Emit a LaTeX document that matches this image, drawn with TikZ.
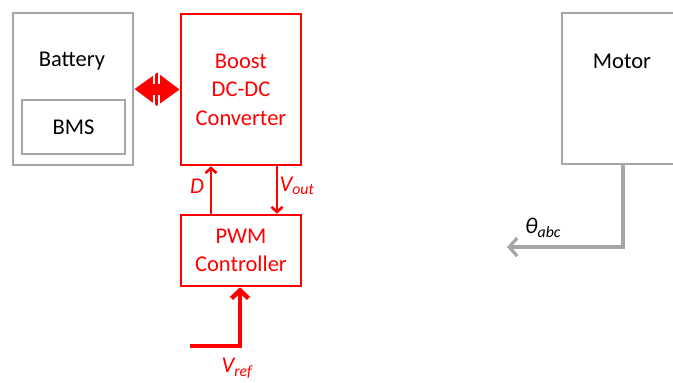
\documentclass[tikz,border=0pt]{standalone}
\usepackage{fontspec}
\setmainfont{Carlito}
\usetikzlibrary{arrows.meta, positioning}
\definecolor{boxgray}{RGB}{166,166,166}
\definecolor{sigred}{RGB}{255,0,0}
\tikzset{
  graybox/.style={draw=boxgray, line width=2.8pt, inner sep=0pt},
  redbox/.style={draw=sigred, line width=2.6pt, inner sep=0pt, text=sigred, align=center},
  sig/.style={draw=sigred, line width=2.6pt, -{Straight Barb[length=5pt, width=11pt]}},
  lbl/.style={text=sigred, font=\fontsize{22.5}{28.5}\selectfont\itshape}
}

\begin{document}
\begin{tikzpicture}[x=1pt, y=-1pt, font=\fontsize{22.5}{28.5}\selectfont]
  \useasboundingbox (0,0) rectangle (673,383);
  \clip (0,0) rectangle (673,383);
  % battery
  \node[graybox, minimum width=120pt, minimum height=152pt] (battery) at (73,89) {};
  \node (battxt) at (72,61) {Battery};
  \node[graybox, minimum width=103pt, minimum height=54pt] (bms) at (73.5,127) {BMS};
  % converter
  \node[redbox, minimum width=120pt, minimum height=151pt] (boost) at (241,89.5) {Boost\\DC-DC\\Converter};
  \node[redbox, minimum width=120pt, minimum height=71pt] (pwm) at (241,250.5) {PWM\\Controller};
  % motor
  \node[graybox, minimum width=122pt, minimum height=151pt] (motor) at (623,88.5) {};
  \node (motortxt) at (622,61) {Motor};
  %
  \draw[sigred, line width=10pt, {Triangle[length=23pt, width=32pt]}-{Triangle[length=23pt, width=32pt]}] (battery.east) -- (boost.west);
  \draw[white, line width=1.3pt] (154,71) -- (154,84) (159,71) -- (159,84) (154,95) -- (154,106) (159,95) -- (159,106);
  %
  \draw[sig] ([xshift=-30pt]pwm.north) -- ([xshift=-30pt]boost.south);
  \node[lbl] (dlbl) at (197,186) {D};
  \draw[sig] ([xshift=36pt]boost.south) -- ([xshift=36pt]pwm.north);
  \node[lbl] (voutlbl) at (297,186) {V\textsubscript{out}};
  %
  \coordinate (vref) at (190,346);
  \draw[sig, line width=4.5pt, -{Straight Barb[length=8pt, width=17pt]}] (vref) -| ([xshift=-1pt]pwm.south);
  \node[lbl] (vreflbl) at (237,368) {V\textsubscript{ref}};
  %
  \coordinate (theta) at (507,247);
  \draw[boxgray, line width=3.2pt, -{Straight Barb[length=8pt, width=18pt]}] (motor.south) |- (theta);
  \node[font=\fontsize{22.5}{28.5}\selectfont\itshape] (thetalbl) at (543,228) {θ\textsubscript{abc}};
\end{tikzpicture}
\end{document}
